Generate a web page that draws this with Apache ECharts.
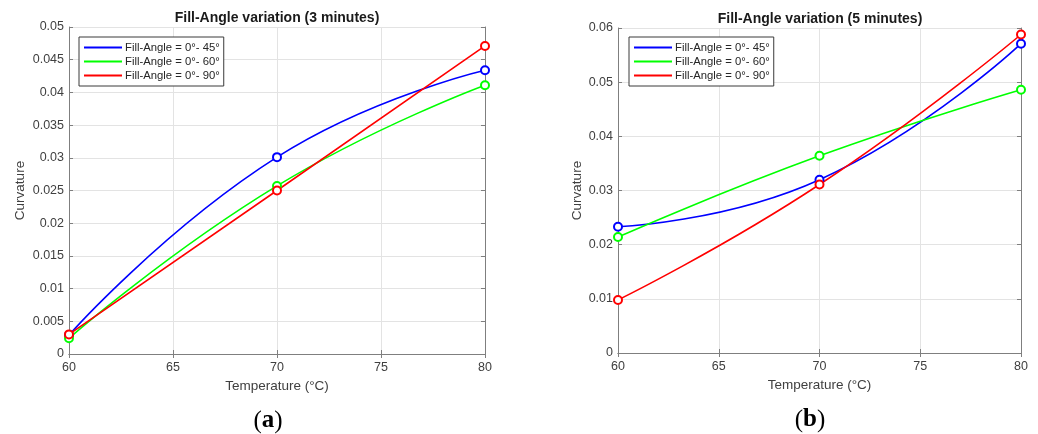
<!DOCTYPE html>
<html>
<head>
<meta charset="utf-8">
<script src="https://cdn.jsdelivr.net/npm/echarts@6/dist/echarts.min.js"></script>
<style>html,body{margin:0;padding:0;background:#fff}#c{width:1038px;height:434px}</style>
</head>
<body>
<div id="c"></div>
<script>
const temps = [60, 70, 80];
const seriesNames = ['Fill-Angle = 0°- 45°', 'Fill-Angle = 0°- 60°', 'Fill-Angle = 0°- 90°'];
const colors = ['#0000ff', '#00ff00', '#ff0000'];
// panel (a): 3 minutes
const a45 = [0.0029, 0.0301, 0.0434];
const a60 = [0.0024, 0.0257, 0.0411];
const a90 = [0.0030, 0.0250, 0.0471];
// panel (b): 5 minutes
const b45 = [0.0233, 0.0320, 0.0571];
const b60 = [0.0214, 0.0364, 0.0486];
const b90 = [0.0098, 0.0311, 0.0588];
const titles = ['Fill-Angle variation (3 minutes)', 'Fill-Angle variation (5 minutes)'];
const captions = ['a', 'b'];
const xName = 'Temperature (°C)';
const yName = 'Curvature';

const FONT = '"Liberation Sans", Arial, sans-serif';
const axisColor = '#7f7f7f';
const labelColor = '#404040';

function xAxes(gi, min, max) {
  return [
    { type: 'value', gridIndex: gi, min: min, max: max, interval: 5, position: 'bottom',
      name: xName, nameLocation: 'middle', nameGap: 24,
      nameTextStyle: { fontFamily: FONT, fontSize: 13.5, color: labelColor },
      axisLine: { show: true, lineStyle: { color: axisColor, width: 1 } },
      axisTick: { show: true, inside: true, length: 4, lineStyle: { color: axisColor } },
      axisLabel: { fontFamily: FONT, fontSize: 12.5, color: labelColor, margin: 7 },
      splitLine: { show: true, lineStyle: { color: '#e3e3e3', width: 1 } } },
    { type: 'value', gridIndex: gi, min: min, max: max, interval: 5, position: 'top',
      axisLine: { show: true, lineStyle: { color: axisColor, width: 1 } },
      axisTick: { show: true, inside: true, length: 4, lineStyle: { color: axisColor } },
      axisLabel: { show: false }, splitLine: { show: false } }
  ];
}
function yAxes(gi, max, interval, gap) {
  return [
    { type: 'value', gridIndex: gi, min: 0, max: max, interval: interval, position: 'left',
      name: yName, nameLocation: 'middle', nameGap: gap, nameRotate: 90,
      nameTextStyle: { fontFamily: FONT, fontSize: 13.5, color: labelColor },
      axisLine: { show: true, lineStyle: { color: axisColor, width: 1 } },
      axisTick: { show: true, inside: true, length: 4, lineStyle: { color: axisColor } },
      axisLabel: { fontFamily: FONT, fontSize: 12.5, color: labelColor, margin: 5 },
      splitLine: { show: true, lineStyle: { color: '#e3e3e3', width: 1 } } },
    { type: 'value', gridIndex: gi, min: 0, max: max, interval: interval, position: 'right',
      axisLine: { show: true, lineStyle: { color: axisColor, width: 1 } },
      axisTick: { show: true, inside: true, length: 4, lineStyle: { color: axisColor } },
      axisLabel: { show: false }, splitLine: { show: false } }
  ];
}
function mkSeries(name, color, vals, xi, yi) {
  return {
    type: 'line', name: name, xAxisIndex: xi, yAxisIndex: yi,
    data: temps.map((t, i) => [t, vals[i]]),
    smooth: 0.5,
    symbol: 'emptyCircle', symbolSize: 8,
    lineStyle: { color: color, width: 1.6 },
    itemStyle: { color: color, borderColor: color, borderWidth: 1.4 },
    emphasis: { disabled: true }, animation: false, z: 3
  };
}
function mkLegend(left, top) {
  return {
    left: left, top: top, orient: 'vertical',
    data: seriesNames.map(n => ({ name: n, icon: 'rect' })),
    itemWidth: 38, itemHeight: 2, itemGap: 3,
    itemStyle: { borderWidth: 0 },
    padding: [5, 4, 5, 5],
    backgroundColor: '#ffffff', borderColor: '#3a3a3a', borderWidth: 1, borderRadius: 0,
    textStyle: { fontFamily: FONT, fontSize: 11.3, color: '#262626', padding: [0, 0, 0, -2] },
    selectedMode: false
  };
}

const serif = '"Liberation Serif", "DejaVu Serif", serif';
const chart = echarts.init(document.getElementById('c'), null, { renderer: 'canvas' });
const option = {
  backgroundColor: '#ffffff',
  animation: false,
  grid: [
    { left: 69, right: 553, top: 27, bottom: 80, containLabel: false },
    { left: 618, right: 17, top: 28, bottom: 81, containLabel: false }
  ],
  xAxis: [].concat(xAxes(0, 60, 80), xAxes(1, 60, 80)),
  yAxis: [].concat(yAxes(0, 0.05, 0.005, 42), yAxes(1, 0.06, 0.01, 33)),
  legend: [mkLegend(79, 37), mkLegend(629, 37)],
  series: [
    mkSeries(seriesNames[0], colors[0], a45, 0, 0),
    mkSeries(seriesNames[1], colors[1], a60, 0, 0),
    mkSeries(seriesNames[2], colors[2], a90, 0, 0),
    mkSeries(seriesNames[0], colors[0], b45, 2, 2),
    mkSeries(seriesNames[1], colors[1], b60, 2, 2),
    mkSeries(seriesNames[2], colors[2], b90, 2, 2)
  ],
  graphic: [
    { type: 'text', x: 277, y: 18, style: { text: titles[0], font: 'bold 14px ' + FONT, fill: '#1a1a1a', align: 'center', verticalAlign: 'middle' } },
    { type: 'text', x: 820, y: 19, style: { text: titles[1], font: 'bold 14px ' + FONT, fill: '#1a1a1a', align: 'center', verticalAlign: 'middle' } },
    { type: 'text', x: 268, y: 421, style: { text: '{p|(}{b|' + captions[0] + '}{p|)}', align: 'center', verticalAlign: 'middle',
        rich: { p: { font: '25px ' + serif, fill: '#000' }, b: { font: 'bold 25px ' + serif, fill: '#000' } } } },
    { type: 'text', x: 810, y: 420, style: { text: '{p|(}{b|' + captions[1] + '}{p|)}', align: 'center', verticalAlign: 'middle',
        rich: { p: { font: '25px ' + serif, fill: '#000' }, b: { font: 'bold 25px ' + serif, fill: '#000' } } } }
  ]
};
chart.setOption(option);
</script>
</body>
</html>
